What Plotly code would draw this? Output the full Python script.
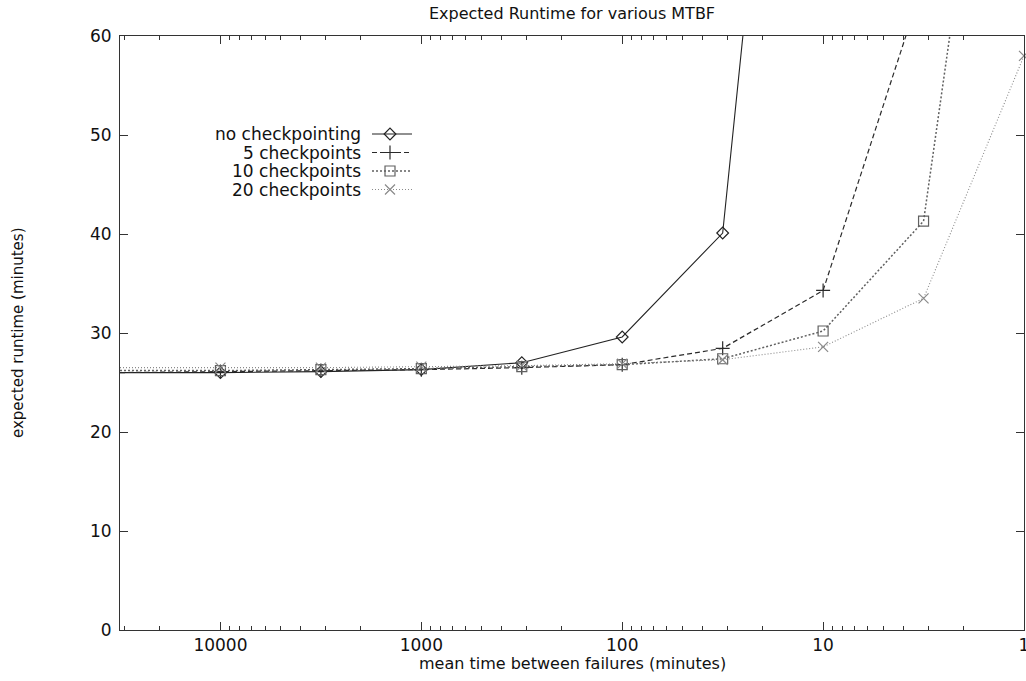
import plotly.graph_objects as go

# ---- data ----
mtbf = [31623, 10000, 3162, 1000, 316.2, 100, 31.62, 10, 3.162, 1]
no_ckpt = [26.0, 26.0, 26.1, 26.3, 27.0, 29.6, 40.1, 139.0]
ckpt5 = [26.0, 26.1, 26.2, 26.3, 26.5, 26.8, 28.45, 34.3, 65.5]
ckpt10 = [26.2, 26.2, 26.3, 26.4, 26.6, 26.8, 27.4, 30.2, 41.3, 113.0]
ckpt20 = [26.5, 26.5, 26.5, 26.6, 26.7, 26.9, 27.3, 28.6, 33.5, 58.0]
series_names = ["no checkpointing", "5 checkpoints", "10 checkpoints", "20 checkpoints"]
x_major = [10000, 1000, 100, 10, 1]
x_major_text = ["10000", "1000", "100", "10", "1"]
y_ticks = [0, 10, 20, 30, 40, 50, 60]

# ---- styles ----
styles = [
    dict(color="#222222", dash="solid", width=1.1, symbol="diamond-open", size=9),
    dict(color="#2a2a2a", dash="5px,3px", width=1.2, symbol="cross-thin-open", size=10),
    dict(color="#606060", dash="2px,2px", width=1.5, symbol="square-open", size=10),
    dict(color="#8a8a8a", dash="1px,2px", width=1.1, symbol="x-thin-open", size=10),
]
all_y = [no_ckpt, ckpt5, ckpt10, ckpt20]

FONT = "DejaVu Sans"
fig = go.Figure()

for name, ys, st in zip(series_names, all_y, styles):
    fig.add_trace(go.Scatter(
        x=mtbf[:len(ys)], y=ys, mode="lines+markers", name=name,
        line=dict(color=st["color"], dash=st["dash"], width=st["width"]),
        marker=dict(symbol=st["symbol"], size=st["size"],
                    line=dict(color=st["color"], width=1.2), color=st["color"]),
        cliponaxis=False, showlegend=False,
    ))

# custom gnuplot-style legend (text left, sample on right) on an overlay axis
W, H = 1026, 681
ml, mr, mt, mb = 120, 2, 36, 51
pw, ph = W - ml - mr, H - mt - mb
def px2x(p):
    return (p - ml) / pw
def py2y(p):
    return (H - mb - p) / ph
rows = [134, 152.5, 171, 189.5]
for name, st, ry in zip(series_names, styles, rows):
    yy = py2y(ry)
    fig.add_trace(go.Scatter(
        x=[px2x(372), px2x(412)], y=[yy, yy], xaxis="x2", yaxis="y2",
        mode="lines", line=dict(color=st["color"], dash=st["dash"], width=st["width"]),
        showlegend=False, hoverinfo="skip"))
    fig.add_trace(go.Scatter(
        x=[px2x(390)], y=[yy], xaxis="x2", yaxis="y2", mode="markers",
        marker=dict(symbol=st["symbol"], size=st["size"],
                    line=dict(color=st["color"], width=1.2), color=st["color"]),
        showlegend=False, hoverinfo="skip"))
    fig.add_annotation(x=px2x(363), y=yy, xref="paper", yref="paper",
                       text=name, showarrow=False, xanchor="right", yanchor="middle",
                       font=dict(family=FONT, size=17, color="#111"))

minor_vals = []
for d in [1, 10, 100, 1000, 10000]:
    for m in range(2, 10):
        if m * d <= 31623:
            minor_vals.append(m * d)

axis_common = dict(showline=True, linecolor="#333", linewidth=1, mirror="ticks",
                   ticks="inside", tickcolor="#333", showgrid=False, zeroline=False,
                   automargin=False)

fig.update_layout(
    template="none",
    width=W, height=H,
    margin=dict(l=ml, r=mr, t=mt, b=mb, autoexpand=False),
    paper_bgcolor="white", plot_bgcolor="white",
    title=dict(text="Expected Runtime for various MTBF", x=572 / W,
               xanchor="center", y=1 - 13 / H, yanchor="middle", yref="container",
               font=dict(family=FONT, size=16, color="#111")),
    xaxis=dict(type="log", range=[4.5, 0], tickvals=x_major, ticktext=x_major_text,
               ticklen=8, tickfont=dict(family=FONT, size=17, color="#111"),
               ticklabeloverflow="allow",
               minor=dict(tickvals=minor_vals, ticks="inside", ticklen=4, tickcolor="#333"),
               **axis_common),
    yaxis=dict(range=[0, 60], tickvals=y_ticks, ticklen=8,
               tickfont=dict(family=FONT, size=17, color="#111"),
               ticklabelstandoff=4, **axis_common),
    xaxis2=dict(overlaying="x", range=[0, 1], visible=False, anchor="y2"),
    yaxis2=dict(overlaying="y", range=[0, 1], visible=False, anchor="x2"),
    showlegend=False,
)
fig.add_annotation(x=px2x(572), y=-(663 - (H - mb)) / ph, xref="paper", yref="paper",
                   text="mean time between failures (minutes)", showarrow=False,
                   xanchor="center", yanchor="middle",
                   font=dict(family=FONT, size=16, color="#111"))
fig.add_annotation(x=px2x(18), y=py2y(333), xref="paper", yref="paper",
                   text="expected runtime (minutes)", showarrow=False, textangle=-90,
                   xanchor="center", yanchor="middle",
                   font=dict(family=FONT, size=15, color="#111"))

fig.write_html("out.html", config={"displayModeBar": False},
               post_script="document.body.style.margin='0';"
                           "document.body.style.overflow='hidden';")
